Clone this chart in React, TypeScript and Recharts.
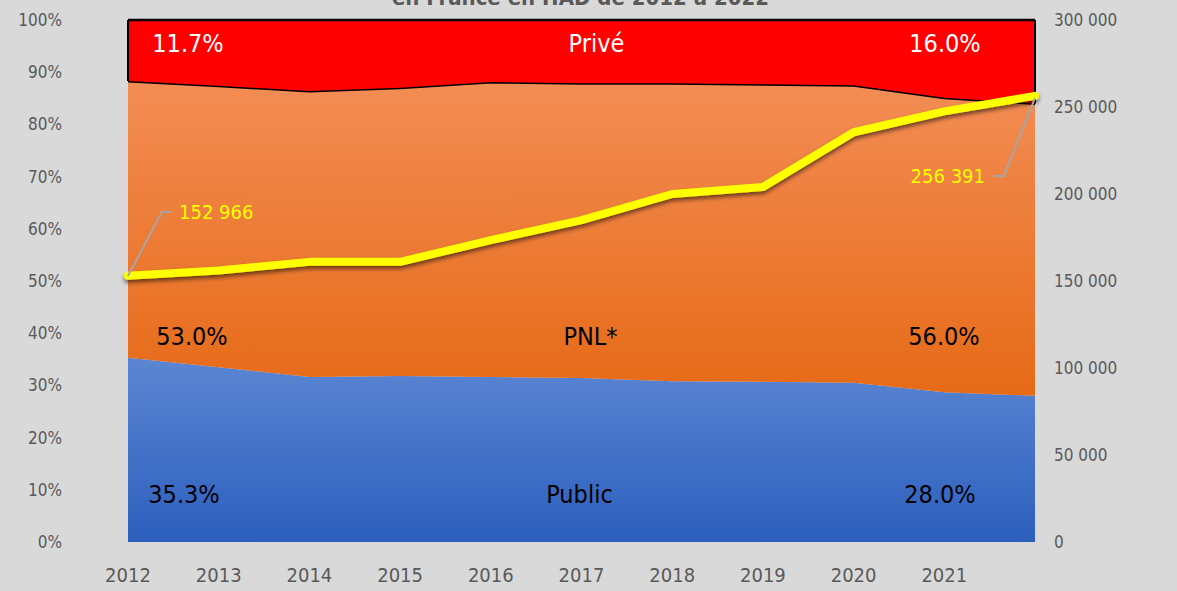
import React from 'react';
import { ComposedChart, Area, Line, XAxis, YAxis, LabelList, ReferenceLine, ReferenceDot } from 'recharts';

const years = ['2012', '2013', '2014', '2015', '2016', '2017', '2018', '2019', '2020', '2021', '2022'];
const xTickLabels = ['2012', '2013', '2014', '2015', '2016', '2017', '2018', '2019', '2020', '2021', ''];
const publicPct = [35.3, 33.5, 31.6, 31.8, 31.6, 31.4, 30.8, 30.7, 30.5, 28.7, 28.0];
const pnlPct = [53.0, 53.9, 54.8, 55.2, 56.5, 56.5, 57.1, 57.0, 57.0, 56.4, 56.0];
const privePct = [11.7, 12.6, 13.6, 13.0, 11.9, 12.1, 12.1, 12.3, 12.5, 14.9, 16.0];
const patients = [152966, 156000, 161000, 161000, 173500, 185000, 200000, 204000, 235500, 247500, 256391];

const pctTicks = [0, 10, 20, 30, 40, 50, 60, 70, 80, 90, 100];
const countTicks = [0, 50000, 100000, 150000, 200000, 250000, 300000];

const bandNames = ['Public', 'PNL*', 'Privé'];
const bandSeries = [publicPct, pnlPct, privePct];
const bandLabelLevel = [8.8, 39.1, 95.2];
const bandLabelColor = ['#000000', '#000000', '#ffffff'];
const midDx = [-2, 9, 15];
const startDx = [56, 64, 60];
const endDx = [-95, -91, -90];

const title = 'en France en HAD de 2012 à 2022';

const FONT = '"Liberation Sans Narrow", "DejaVu Sans Condensed", "Open Sans", sans-serif';

const data = years.map((y, i) => ({
  year: y,
  public: publicPct[i],
  pnl: pnlPct[i],
  prive: privePct[i],
  patients: patients[i],
}));

const fmtCount = (v: number) => String(v).replace(/\B(?=(\d{3})+(?!\d))/g, ' ');
const fmtPct = (v: number) => v.toFixed(1) + '%';

const last = years.length - 1;
const mid = 5;

const LineLabel = (props: any) => {
  const { x, y, index, value } = props;
  if (index === 0) {
    return (
      <g>
        <polyline points={`${x},${y} ${x + 34},${y - 64} ${x + 44},${y - 64}`} fill="none" stroke="#a6a6a6" strokeWidth={2} />
        <text x={x + 51} y={y - 62} fill="#ffff00" fontSize={20} fontFamily={FONT} dominantBaseline="middle">
          {fmtCount(value)}
        </text>
      </g>
    );
  }
  if (index === last) {
    return (
      <g>
        <polyline points={`${x},${y + 2} ${x - 31},${y + 80} ${x - 41},${y + 80}`} fill="none" stroke="#a6a6a6" strokeWidth={2} />
        <text x={x - 50} y={y + 82} fill="#ffff00" fontSize={20} fontFamily={FONT} textAnchor="end" dominantBaseline="middle">
          {fmtCount(value)}
        </text>
      </g>
    );
  }
  return null;
};

const makeTextShape = (txt: string, color: string, dx: number) => (p: any) => (
  <text x={p.cx + dx} y={p.cy} fill={color} fontSize={25} fontFamily={FONT} textAnchor="middle" dominantBaseline="middle">
    {txt}
  </text>
);

export default function App() {
  return (
    <div style={{ position: 'absolute', left: 0, top: 0, width: 1177, height: 591, background: '#d9d9d9', overflow: 'hidden' }}>
      <div
        style={{
          position: 'absolute',
          left: -8,
          width: 1177,
          top: -15,
          textAlign: 'center',
          fontFamily: FONT,
          fontWeight: 700,
          fontSize: 22,
          color: '#595959',
          lineHeight: '26px',
        }}
      >
        {title}
      </div>
      <ComposedChart width={1177} height={591} data={data} margin={{ top: 20, right: 0, bottom: 0, left: 0 }}>
        <defs>
          <linearGradient id="gradPublic" x1="0" y1="0" x2="0" y2="1">
            <stop offset="0%" stopColor="#5c86d3" />
            <stop offset="100%" stopColor="#2c5fbd" />
          </linearGradient>
          <linearGradient id="gradPnl" x1="0" y1="0" x2="0" y2="1">
            <stop offset="0%" stopColor="#f38d55" />
            <stop offset="100%" stopColor="#e66a17" />
          </linearGradient>
          <filter id="lineShadow" x="-5%" y="-20%" width="110%" height="160%">
            <feDropShadow dx="0" dy="3" stdDeviation="2" floodColor="#000000" floodOpacity="0.55" />
          </filter>
        </defs>
        <XAxis
          dataKey="year"
          scale="point"
          padding={{ left: 0, right: 0 }}
          axisLine={false}
          tickLine={false}
          height={49}
          tickMargin={20}
          interval={0}
          tickFormatter={(v: string, i: number) => xTickLabels[i]}
          tick={{ fill: '#595959', fontSize: 20, fontFamily: FONT }}
        />
        <YAxis
          yAxisId="pct"
          orientation="left"
          width={128}
          domain={[0, 100]}
          ticks={pctTicks}
          interval={0}
          axisLine={false}
          tickLine={false}
          tickMargin={60}
          tickFormatter={(v: number) => `${v}%`}
          tick={{ fill: '#595959', fontSize: 17, fontFamily: FONT }}
        />
        <YAxis
          yAxisId="cnt"
          orientation="right"
          width={142}
          domain={[0, 300000]}
          ticks={countTicks}
          interval={0}
          axisLine={false}
          tickLine={false}
          tickMargin={13}
          tickFormatter={fmtCount}
          tick={{ fill: '#595959', fontSize: 17, fontFamily: FONT, textAnchor: 'start' }}
        />
        <Area yAxisId="pct" dataKey="public" stackId="s" type="linear" fill="url(#gradPublic)" fillOpacity={1} stroke="none" isAnimationActive={false} />
        <Area yAxisId="pct" dataKey="pnl" stackId="s" type="linear" fill="url(#gradPnl)" fillOpacity={1} stroke="#000000" strokeWidth={3} isAnimationActive={false} />
        <Area yAxisId="pct" dataKey="prive" stackId="s" type="linear" fill="#ff0000" fillOpacity={1} stroke="#000000" strokeWidth={2.5} isAnimationActive={false} />
        <ReferenceLine
          yAxisId="pct"
          segment={[{ x: years[0], y: 100 - privePct[0] }, { x: years[0], y: 100 }]}
          stroke="#000000"
          strokeWidth={2}
        />
        <ReferenceLine
          yAxisId="pct"
          segment={[{ x: years[last], y: 100 - privePct[last] }, { x: years[last], y: 100 }]}
          stroke="#000000"
          strokeWidth={2}
        />
        {bandNames.map((name, i) => (
          <ReferenceDot key={'s' + i} yAxisId="pct" x={years[0]} y={bandLabelLevel[i]} r={0} shape={makeTextShape(fmtPct(bandSeries[i][0]), bandLabelColor[i], startDx[i])} />
        ))}
        {bandNames.map((name, i) => (
          <ReferenceDot key={'m' + i} yAxisId="pct" x={years[mid]} y={bandLabelLevel[i]} r={0} shape={makeTextShape(name, bandLabelColor[i], midDx[i])} />
        ))}
        {bandNames.map((name, i) => (
          <ReferenceDot key={'e' + i} yAxisId="pct" x={years[last]} y={bandLabelLevel[i]} r={0} shape={makeTextShape(fmtPct(bandSeries[i][last]), bandLabelColor[i], endDx[i])} />
        ))}
        <Line
          yAxisId="cnt"
          dataKey="patients"
          type="linear"
          stroke="#ffff00"
          strokeWidth={8}
          strokeLinecap="round"
          strokeLinejoin="round"
          dot={false}
          activeDot={false}
          filter="url(#lineShadow)"
          isAnimationActive={false}
        >
          <LabelList dataKey="patients" content={LineLabel} />
        </Line>
      </ComposedChart>
    </div>
  );
}
